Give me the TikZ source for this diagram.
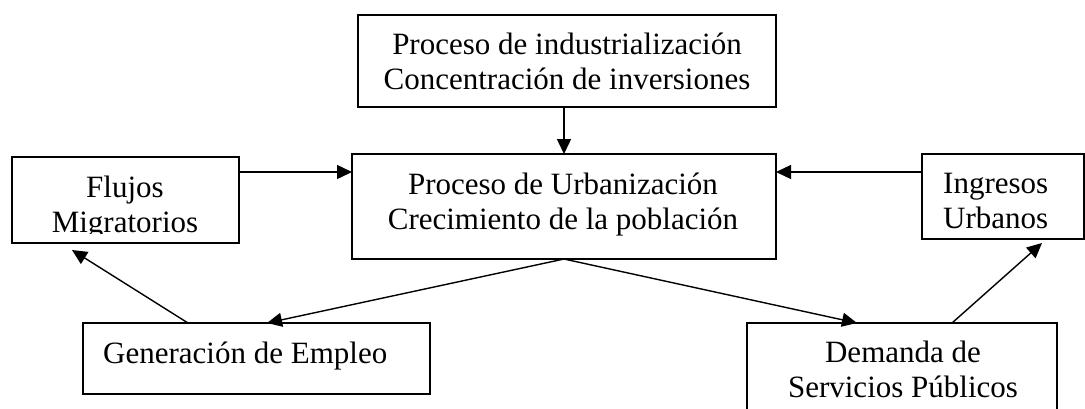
\documentclass[tikz,border=0pt]{standalone}
\usepackage{fontspec}
\setmainfont{Liberation Serif}
\usetikzlibrary{arrows.meta}
\tikzset{
  box/.style={draw, line width=1.4pt, inner sep=0pt, outer sep=0pt},
  lbl/.style={font=\fontsize{31}{35}\selectfont, inner sep=0pt},
  arr/.style={line width=1.4pt, -{Triangle[length=15pt,width=14pt]}}
}
\begin{document}
\begin{tikzpicture}[x=1pt, y=-1pt]
\useasboundingbox (0,0) rectangle (1085,408);
% cajas
\node[box, minimum width=418pt, minimum height=92pt] (indus) at (567,61) {};
\node[box, minimum width=424pt, minimum height=105pt] (urb) at (564,206.5) {};
\node[box, minimum width=227pt, minimum height=86pt] (flujos) at (125.5,200) {};
\node[box, minimum width=162pt, minimum height=85pt] (ingresos) at (1003,196.5) {};
\node[box, minimum width=347pt, minimum height=71pt] (empleo) at (256.5,358.5) {};
\node[box, minimum width=310pt, minimum height=100pt] (demanda) at (902,373) {};
% textos (base = ultima linea)
\node[lbl, align=center, anchor=base] (indust) at (567,89) {Proceso de industrialización\\Concentración de inversiones};
\node[lbl, align=center, anchor=base] (urbt) at (563,229.5) {Proceso de Urbanización\\Crecimiento de la población};
\begin{scope}
\clip (12,157) rectangle (239,233);
\node[lbl, align=center, anchor=base] (flujost) at (125,232) {Flujos\\Migratorios};
\end{scope}
\node[lbl, align=left, anchor=base west] (ingresost) at (943,228) {Ingresos\\Urbanos};
\node[lbl, anchor=base west] (empleot) at (103,363) {Generación de Empleo};
\node[lbl, align=center, anchor=base] (demandat) at (903,397) {Demanda de\\Servicios Públicos};
% flechas
\draw[arr] (indus.south -| urb.north) -- (urb.north);
\draw[arr] ([yshift=28pt]flujos.east) -- ([yshift=28pt]flujos.east -| urb.west);
\draw[arr] ([yshift=24.5pt]ingresos.west) -- ([yshift=24.5pt]ingresos.west -| urb.east);
\draw[arr] (urb.south) -- ([xshift=10.5pt]empleo.north);
\draw[arr] (urb.south) -- ([xshift=-45pt]demanda.north);
\draw[arr] ([xshift=-68.5pt]empleo.north) -- ([xshift=-53.5pt,yshift=-7pt]flujos.south);
\draw[arr] ([xshift=50pt]demanda.north) -- ([xshift=39pt,yshift=-4pt]ingresos.south);
\end{tikzpicture}
\end{document}
